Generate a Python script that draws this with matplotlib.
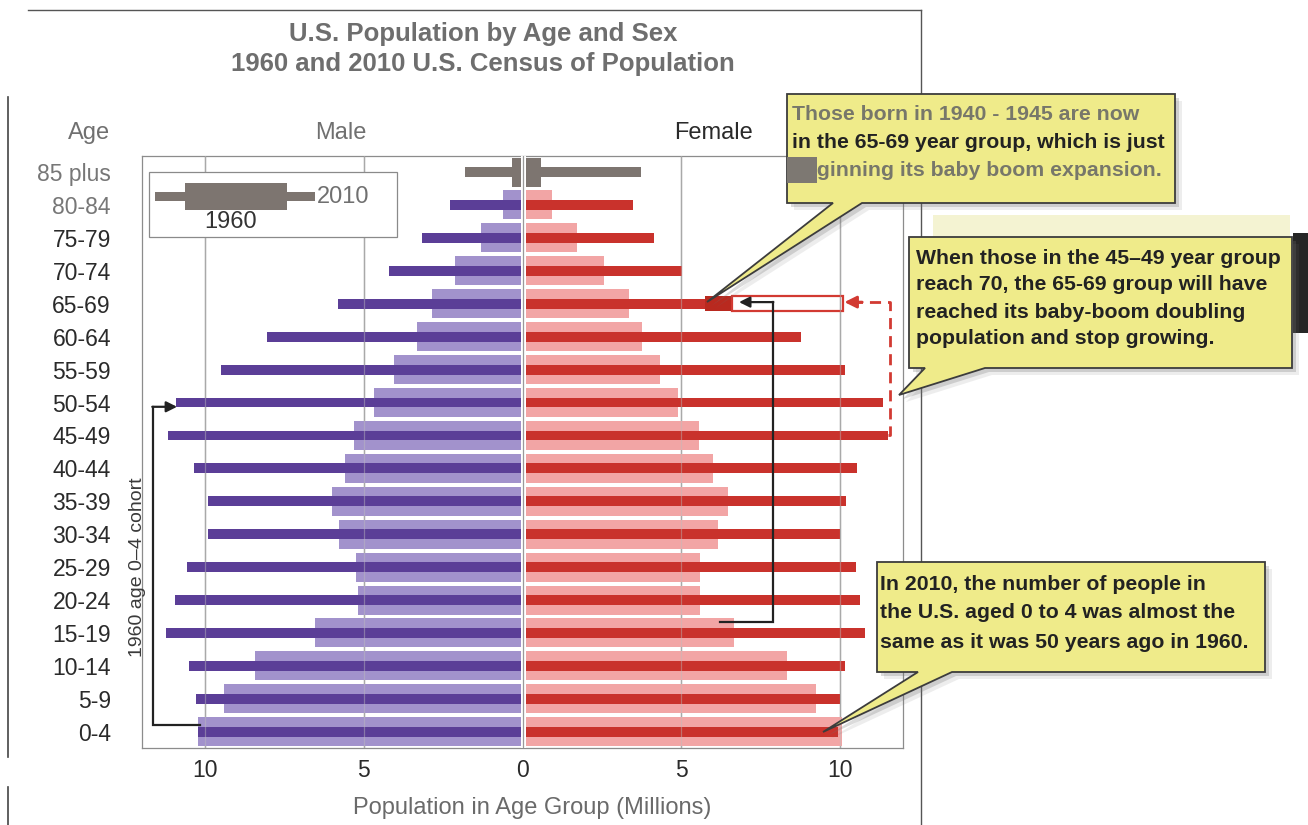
import matplotlib
matplotlib.use('Agg')
import matplotlib.pyplot as plt
from matplotlib.patches import Rectangle, Polygon
from matplotlib.lines import Line2D
from matplotlib import font_manager as fm

# ---------------- data (millions) ----------------
ages = ['0-4', '5-9', '10-14', '15-19', '20-24', '25-29', '30-34', '35-39', '40-44',
        '45-49', '50-54', '55-59', '60-64', '65-69', '70-74', '75-79', '80-84', '85 plus']
male_2010 = [10.22, 10.28, 10.50, 11.23, 10.94, 10.57, 9.91, 9.91, 10.35,
             11.17, 10.90, 9.50, 8.05, 5.81, 4.20, 3.17, 2.28, 1.81]
female_2010 = [9.94, 10.00, 10.16, 10.79, 10.63, 10.50, 10.00, 10.19, 10.54,
               11.51, 11.35, 10.16, 8.77, 6.60, 5.02, 4.14, 3.48, 3.73]
male_1960 = [10.22, 9.40, 8.43, 6.54, 5.17, 5.24, 5.78, 6.00, 5.59,
             5.31, 4.68, 4.05, 3.32, 2.85, 2.13, 1.31, 0.61, 0.33]
female_1960 = [10.06, 9.24, 8.33, 6.66, 5.59, 5.59, 6.16, 6.47, 6.00,
               5.57, 4.90, 4.33, 3.76, 3.35, 2.57, 1.72, 0.93, 0.58]
x_ticks = [-10, -5, 0, 5, 10]
x_tick_labels = ['10', '5', '0', '5', '10']

# 65-69 female highlight and projected growth
highlight_start = 5.75
projected_6569 = 10.09

# ---------------- style ----------------
names = {f.name for f in fm.fontManager.ttflist}
BASE = 'Liberation Sans' if 'Liberation Sans' in names else 'DejaVu Sans'
NARROW = 'Liberation Sans Narrow' if 'Liberation Sans Narrow' in names else BASE
narrow_ok = NARROW != BASE
plt.rcParams['font.family'] = [BASE, 'DejaVu Sans']

DPUR, LPUR = '#5b3e97', '#a292cc'
DRED, LRED = '#c9322c', '#f2a5a5'
GREY_BAR = '#7d7570'
YEL = '#efeb8a'
GTXT = '#6e6e6e'
DTXT = '#2a2a2a'

W, H = 1308, 825
fig = plt.figure(figsize=(W / 100, H / 100), dpi=100)
fig.patch.set_facecolor('white')


def F(x, y):
    return (x / W, 1 - y / H)


ax_l, ax_r, ax_t, ax_b = 141.5, 903.5, 155.6, 748.2
ax = fig.add_axes([ax_l / W, 1 - ax_b / H, (ax_r - ax_l) / W, (ax_b - ax_t) / H])
ax.set_xlim(-12, 12)
ax.set_ylim(-0.5, 17.5)

n = len(ages)
ys = list(range(n))
for i in ys:
    top = (i == n - 1)
    lp = GREY_BAR if top else LPUR
    lr = GREY_BAR if top else LRED
    dp = GREY_BAR if top else DPUR
    dr = GREY_BAR if top else DRED
    ax.barh(i, -male_1960[i], height=0.88, color=lp, zorder=2, linewidth=0)
    ax.barh(i, female_1960[i], height=0.88, color=lr, zorder=2, linewidth=0)
    ax.barh(i, -male_2010[i], height=0.30, color=dp, zorder=3, linewidth=0)
    ax.barh(i, female_2010[i], height=0.30, color=dr, zorder=3, linewidth=0)

# highlight of 65-69 female growth, and projected outline
i6569 = ages.index('65-69')
ax.add_patch(Rectangle((highlight_start, i6569 - 0.23), female_2010[i6569] - highlight_start, 0.46,
                       facecolor='#b9291f', edgecolor='none', zorder=4))
ax.add_patch(Rectangle((female_2010[i6569], i6569 - 0.23), projected_6569 - female_2010[i6569], 0.46,
                       facecolor='none', edgecolor='#d23a32', lw=1.6, zorder=4))

# grid lines
for xt in x_ticks:
    if xt == 0:
        ax.axvline(0, color='white', lw=3.6, zorder=5)
        ax.axvline(0, color='#9a9a9a', lw=0.9, zorder=5.1)
    else:
        ax.axvline(xt, color='#9a9a9a', lw=1.0, zorder=1)
        ax.axvline(xt, color='#bdbdbd', lw=0.9, alpha=0.45, zorder=5)

ax.set_xticks(x_ticks)
ax.set_xticklabels(x_tick_labels, fontsize=16.5, color=DTXT)
ax.set_yticks(ys)
ax.set_yticklabels(ages, fontsize=16.5)
for k, lab in enumerate(ax.get_yticklabels()):
    lab.set_color('#777777' if k >= n - 2 else DTXT)
ax.tick_params(axis='y', length=0, pad=22)
ax.tick_params(axis='x', length=0, pad=8)
for s in ax.spines.values():
    s.set_color('#8c8c8c')
    s.set_linewidth(0.9)

# ---------------- arrows (data coordinates) ----------------
i5054 = ages.index('50-54')
i4549 = ages.index('45-49')
# left: 1960 0-4 cohort -> 2010 50-54
ax.plot([-male_2010[0] + 0.06, -11.65, -11.65], [0.2, 0.2, i5054 - 0.13],
        color='#222222', lw=1.6, zorder=6, solid_joinstyle='miter')
ax.annotate('', xy=(-male_2010[i5054] + 0.02, i5054 - 0.13), xytext=(-11.66, i5054 - 0.13),
            arrowprops=dict(arrowstyle='-|>', color='#222222', lw=1.6, mutation_scale=16,
                            shrinkA=0, shrinkB=0), zorder=6)
# right black bracket
ax.plot([6.22, 7.89, 7.89], [3.33, 3.33, i6569 + 0.05], color='#222222', lw=1.6, zorder=6,
        solid_joinstyle='miter')
ax.annotate('', xy=(6.82, i6569 + 0.05), xytext=(7.90, i6569 + 0.05),
            arrowprops=dict(arrowstyle='-|>', color='#222222', lw=1.6, mutation_scale=16,
                            shrinkA=0, shrinkB=0), zorder=6)
# red dashed from 45-49 to projected 65-69
ax.plot([female_2010[i4549], 11.57, 11.57, 10.55], [i4549, i4549, i6569 + 0.05, i6569 + 0.05],
        color='#d23a32', lw=2.0, ls=(0, (4, 2.5)), zorder=6, clip_on=False)
ax.annotate('', xy=(projected_6569 + 0.05, i6569 + 0.05), xytext=(10.7, i6569 + 0.05),
            arrowprops=dict(arrowstyle='-|>', color='#d23a32', lw=2.0, mutation_scale=18,
                            shrinkA=0, shrinkB=0), zorder=6)

# ---------------- figure-level decorations ----------------
def fline(xs, ys_, **kw):
    fig.add_artist(Line2D([x / W for x in xs], [1 - y / H for y in ys_], transform=fig.transFigure, **kw))


fline([28, 921], [10, 10], color='#555555', lw=1.0)
fline([921, 921], [10, 825], color='#555555', lw=1.0)
fline([8, 8], [97, 757], color='#444444', lw=1.2)
fline([8, 8], [787, 825], color='#444444', lw=1.2)

# titles
tsize = 19.5 if narrow_ok else 18.5
fig.text(*F(483, 34), 'U.S. Population by Age and Sex', ha='center', va='center',
         fontsize=tsize, fontweight='bold', color=GTXT, family=NARROW)
fig.text(*F(483, 64), '1960 and 2010 U.S. Census of Population', ha='center', va='center',
         fontsize=tsize, fontweight='bold', color=GTXT, family=NARROW)
lsize = 17
fig.text(*F(110, 133), 'Age', ha='right', va='center', fontsize=lsize, color='#707070')
fig.text(*F(341, 133), 'Male', ha='center', va='center', fontsize=lsize, color='#707070')
fig.text(*F(713, 133), 'Female', ha='center', va='center', fontsize=lsize, color=DTXT)
fig.text(*F(532, 808), 'Population in Age Group (Millions)', ha='center', va='center',
         fontsize=lsize, color='#6a6a6a')
fig.text(*F(137, 567), '1960 age 0–4 cohort', ha='center', va='center', rotation=90,
         fontsize=14, color='#3a3a3a')

# legend
def frect(x0, y0, x1, y1, **kw):
    fig.add_artist(Rectangle((x0 / W, 1 - y1 / H), (x1 - x0) / W, (y1 - y0) / H,
                             transform=fig.transFigure, **kw))


frect(149, 172, 397, 237, facecolor='white', edgecolor='#8a8a8a', lw=0.9, zorder=7)
frect(155, 192, 315, 201, facecolor=GREY_BAR, edgecolor='none', zorder=8)
frect(185, 183, 287, 210, facecolor=GREY_BAR, edgecolor='none', zorder=8)
fig.text(*F(317, 197), '2010', ha='left', va='center', fontsize=17, color='#707070', zorder=9)
fig.text(*F(204, 222), '1960', ha='left', va='center', fontsize=17, color='#333333', zorder=9)

# callouts
def callout(L, T, R, B, b1, b2, tip):
    pts = [(L, T), (R, T), (R, B), (b2, B), tip, (b1, B), (L, B)]
    for off, a in ((7, 0.12), (4, 0.25)):
        sp = [(x + off, y + off) for x, y in pts]
        fig.add_artist(Polygon([F(x, y) for x, y in sp], closed=True, transform=fig.transFigure,
                               facecolor='#707070', edgecolor='none', alpha=a, zorder=10))
    fig.add_artist(Polygon([F(x, y) for x, y in pts], closed=True, transform=fig.transFigure,
                           facecolor=YEL, edgecolor='#3c3c3c', lw=1.3, zorder=11))


# pale band behind callout 2 (scan artefact)
frect(933, 215, 1290, 240, facecolor='#f4f3d2', edgecolor='none', zorder=9)
frect(1293, 233, 1308, 333, facecolor='#262626', edgecolor='none', zorder=9)

callout(787, 94, 1175, 203, 833, 862, (707, 302))
callout(909, 237, 1292, 368, 925, 985, (899, 395))
callout(877, 562, 1265, 672, 918, 952, (823, 732))

CS = 15.3
c1 = [('Those born in 1940 - 1945 are now', '#77776a'),
      ('in the 65-69 year group, which is just', '#222222'),
      ('beginning its baby boom expansion.', '#77776a')]
for k, (s, c) in enumerate(c1):
    fig.text(*F(792, 115 + 27.5 * k), s, ha='left', va='center', fontsize=CS,
             fontweight='bold', color=c, zorder=12)
frect(787, 157, 817, 183, facecolor='#7d7872', edgecolor='none', zorder=13)

c2 = ['When those in the 45–49 year group', 'reach 70, the 65-69 group will have',
      'reached its baby-boom doubling', 'population and stop growing.']
for k, s in enumerate(c2):
    fig.text(*F(916, 258 + 27 * k), s, ha='left', va='center', fontsize=CS,
             fontweight='bold', color='#222222', zorder=12)

c3 = ['In 2010, the number of people in', 'the U.S. aged 0 to 4 was almost the',
      'same as it was 50 years ago in 1960.']
for k, s in enumerate(c3):
    fig.text(*F(880, 584 + 29 * k), s, ha='left', va='center', fontsize=CS,
             fontweight='bold', color='#222222', zorder=12)

fig.savefig('out.png', dpi=100, facecolor='white')
